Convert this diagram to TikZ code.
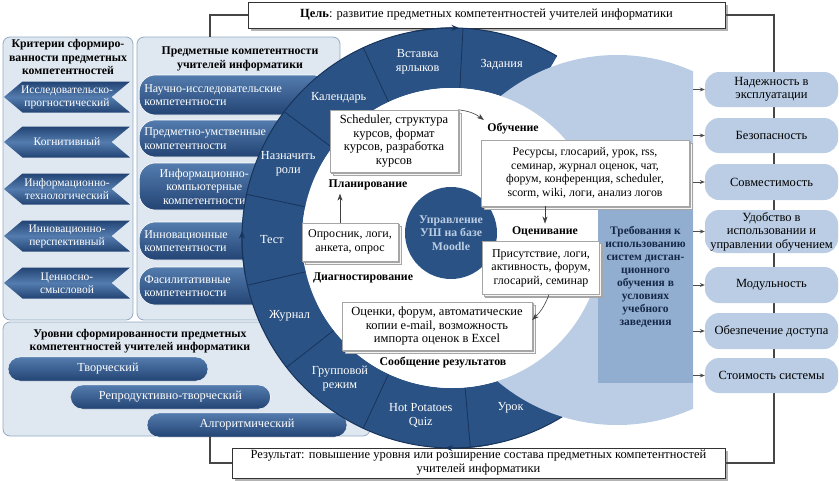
\documentclass[tikz,border=0pt]{standalone}
\usepackage{fontspec}
\setmainfont{Liberation Serif}
\usetikzlibrary{positioning,calc,shapes.symbols,shadows,arrows.meta}

\definecolor{ringblue}{RGB}{42,82,132}
\definecolor{ringline}{RGB}{24,52,92}
\definecolor{capdark}{RGB}{34,68,116}
\definecolor{caplight}{RGB}{84,124,174}
\definecolor{paleblue}{RGB}{186,205,228}
\definecolor{midblue}{RGB}{145,174,208}
\definecolor{panelfill}{RGB}{223,231,240}
\definecolor{panelline}{RGB}{148,170,196}
\definecolor{navytext}{RGB}{22,40,72}
\definecolor{linkgray}{RGB}{70,70,70}

\tikzset{
    x=1pt, y=1pt,
    every node/.style={font=\fontsize{12}{13.5}\selectfont},
    panel/.style={draw=panelline, fill=panelfill, rounded corners=7pt, line width=0.8pt},
    paneltitle/.style={font=\fontsize{11.8}{13.5}\selectfont\bfseries, align=center},
    chevron/.style={signal, signal to=west, signal from=east, signal pointer angle=80,
        top color=capdark, bottom color=capdark, middle color=caplight,
        minimum width=126pt, minimum height=31pt, inner sep=0pt},
    chevtext/.style={text=white, align=center, font=\fontsize{11.5}{13}\selectfont},
    comp/.style={rounded corners=16pt, top color=caplight, bottom color=capdark, text=white,
        draw=white, line width=0.6pt, text width=180pt, align=left, inner sep=5pt, anchor=west},
    level/.style={rounded corners=12pt, top color=caplight, bottom color=capdark, text=white,
        draw=white, minimum width=200pt, minimum height=24pt, inner sep=0pt,
        font=\fontsize{12.3}{13.5}\selectfont},
    seg/.style={text=white, align=center, font=\fontsize{12.3}{14}\selectfont},
    paper/.style={draw=gray!70, fill=white, align=center, inner sep=3pt,
        double copy shadow={shadow xshift=1.5pt, shadow yshift=-1.5pt, draw=gray!70, fill=gray!8}},
    stage/.style={font=\fontsize{11.8}{13.5}\selectfont\bfseries},
    banner/.style={draw=black!80, fill=white, line width=0.6pt, align=center,
        font=\fontsize{12.5}{14}\selectfont,
        drop shadow={shadow xshift=2.5pt, shadow yshift=-2.5pt, fill=gray, opacity=0.6}},
    need/.style={rounded corners=14pt, fill=paleblue, align=center, minimum width=133pt, inner sep=2pt,
        font=\fontsize{12.5}{13.5}\selectfont},
    link/.style={draw=linkgray, line width=1.6pt},
    flow/.style={-{Stealth[length=7pt,width=5pt]}, draw=black!75, line width=0.6pt},
    tip/.style={-{Stealth[length=5pt,width=4pt]}, draw=black!70, line width=0.8pt},
}

\begin{document}
\begin{tikzpicture}
    \useasboundingbox (0,0) rectangle (839,-480);

    % panels on the left
    \node [panel, minimum width=130pt, minimum height=283pt] (critP) at (68,-178.5) {};
    \node [panel, minimum width=203pt, minimum height=283pt] (compP) at (238.5,-178.5) {};
    \node [panel, minimum width=367pt, minimum height=114pt] (levP) at (186.5,-379) {};

    \node [paneltitle] (critT) at (68,-57) {Критерии сформиро-\\ванности предметных\\компетентностей};
    \node [paneltitle] (compT) at (240,-59) {Предметные компетентности\\учителей информатики};
    \node [paneltitle] (levT) at (140,-341) {Уровни сформированности предметных\\компетентностей учителей информатики};

    \node [chevron] (c1) at (67,-97) {};
    \node [chevron] (c2) at (67,-142) {};
    \node [chevron] (c3) at (67,-189) {};
    \node [chevron] (c4) at (67,-236) {};
    \node [chevron] (c5) at (67,-283) {};
    \node [chevtext] (c1t) at (c1) {Исследовательско-\\прогностический};
    \node [chevtext] (c2t) at (c2) {Когнитивный};
    \node [chevtext] (c3t) at (c3) {Информационно-\\технологический};
    \node [chevtext] (c4t) at (c4) {Инновационно-\\перспективный};
    \node [chevtext] (c5t) at (c5) {Ценносно-\\смысловой};

    \node [comp, minimum height=40pt] (k1) at (139,-95) {Научно-исследовательские\\компетентности};
    \node [comp, minimum height=37pt] (k2) at (139,-138.5) {Предметно-умственные\\компетентности};
    \node [comp, minimum height=47pt, align=center] (k3) at (139,-186.5) {\hspace*{-60pt}Информационно-\\\hspace*{-60pt}компьютерные\\\hspace*{-60pt}компетентности};
    \node [comp, minimum height=38pt] (k4) at (139,-241) {Инновационные\\компетентности};
    \node [comp, minimum height=38pt] (k5) at (139,-286) {Фасилитативные\\компетентности};

    \node [level] (l1) at (108,-369) {Творческий};
    \node [level] (l2) at (170.5,-397) {Репродуктивно-творческий};
    \node [level] (l3) at (247,-425) {Алгоритмический};

    % links between goal, panels and result
    \coordinate (gl) at (210,-37);
    \coordinate (lb) at (210,-436);
    \coordinate (rb) at (774,-463);
    \node [banner, minimum width=477pt, minimum height=26pt] (goal) at (486.5,-15)
        {\textbf{Цель}: развитие предметных компетентностей учителей информатики};
    \node [banner, minimum width=493pt, minimum height=30pt, inner sep=1pt] (result) at (478.5,-463)
        {Результат: повышение уровня или розширение состава предметных компетентностей\\учителей информатики};
    \draw [link] (goal.west) -| (gl);
    \draw [link] (lb) |- (result.west);
    \draw [link] (goal.east) -| (rb) -- (result.east);

    % ring
    \coordinate (c) at (452,-238);
    \fill [ringblue] ($(c)+(60:210)$) arc [start angle=60, end angle=305, radius=210]
        -- ($(c)+(305:150)$) arc [start angle=305, end angle=60, radius=150] -- cycle;
    \foreach \a in {87,115,143,168,193,218,245,275}
        \draw [ringline, line width=0.8pt] ($(c)+(\a:150)$) -- ($(c)+(\a:210)$);
    \draw [ringline, line width=1pt] ($(c)+(60:210)$) arc [start angle=60, end angle=305, radius=210];
    \foreach \a in {100,190,280}
        \draw [ringline, line width=1pt, -{Stealth[length=8pt,width=6pt]}] ($(c)+(\a:210)$)
            arc [start angle=\a, end angle=\a-12, radius=210];
    \begin{scope}
        \clip (420,0) rectangle (693,-480);
        \fill [paleblue] (617,-240) circle [radius=185];
    \end{scope}
    \fill [white] (c) circle [radius=150];

    \node [seg] (s1) at ($(c)+(74:180)$) {Задания};
    \node [seg] (s2) at ($(c)+(101:180)$) {Вставка\\ярлыков};
    \node [seg] (s3) at ($(c)+(129:180)$) {Календарь};
    \node [seg] (s4) at ($(c)+(155.5:180)$) {Назначить\\роли};
    \node [seg] (s5) at ($(c)+(180.5:180)$) {Тест};
    \node [seg] (s6) at ($(c)+(205.5:180)$) {Журнал};
    \node [seg] (s7) at ($(c)+(231.5:180)$) {Групповой\\режим};
    \node [seg] (s8) at ($(c)+(260:180)$) {Hot Potatoes\\Quiz};
    \node [seg] (s9) at ($(c)+(289:180)$) {Урок};

    \node [circle, fill=ringblue, minimum size=92pt, text=paleblue, align=center,
        font=\fontsize{11.8}{13.5}\selectfont\bfseries] (moodle) at (451,-233) {Управление\\УШ на базе\\Moodle};

    % requirements on the right
    \node [fill=midblue, minimum width=95pt, minimum height=176pt] (demands) at (645.5,-295) {};
    \node [font=\fontsize{11.5}{13}\selectfont\bfseries, text=navytext, align=center] (demandsT) at (645.5,-277)
        {Требования к\\использованию\\систем дистан-\\ционного\\обучения в\\условиях\\учебного\\заведения};

    % stages inside the ring
    \node [paper, minimum width=128pt, minimum height=62pt, font=\fontsize{12.5}{13.5}\selectfont] (sched) at (394,-141)
        {Scheduler, структура\\курсов, формат\\курсов, разработка\\курсов};
    \node [stage] (plan) at (368,-185) {Планирование};
    \node [stage] (learn) at (513,-129) {Обучение};
    \node [paper, minimum width=208pt, minimum height=66pt, font=\fontsize{11.8}{13.5}\selectfont] (res) at (585,-173)
        {Ресурсы, глосарий, урок, rss,\\семинар, журнал оценок, чат,\\форум, конференция, scheduler,\\scorm, wiki, логи, анализ логов};
    \node [stage] (grade) at (545,-232) {Оценивание};
    \node [paper, minimum width=117pt, minimum height=53pt] (pres) at (541,-268)
        {Присутствие, логи,\\активность, форум,\\глосарий, семинар};
    \node [paper, minimum width=190pt, minimum height=48pt, font=\fontsize{12.5}{13.5}\selectfont] (marks) at (437,-326)
        {Оценки, форум, автоматические\\копии e-mail, возможность\\импорта оценок в Excel};
    \node [stage] (report) at (443,-363) {Сообщение результатов};
    \node [paper, minimum width=96pt, minimum height=38pt] (poll) at (350,-242)
        {Опросник, логи,\\анкета, опрос};
    \node [stage] (diag) at (363,-278) {Диагностирование};

    \draw [flow] (sched.north east) to [bend left=15] (learn.north west);
    \draw [flow] (res.south -| grade.north) -- (grade.north);
    \draw [flow] ([xshift=8pt]pres.south) to [bend left=12] ([yshift=6pt]marks.east);
    \draw [flow] ([xshift=-10pt]poll.north) -- ([xshift=-10pt]poll.north |- plan.south);

    \node [need, minimum height=35pt] (n1) at (771.5,-89.5) {Надежность в\\эксплуатации};
    \node [need, minimum height=35pt] (n2) at (771.5,-135.5) {Безопасность};
    \node [need, minimum height=36pt] (n3) at (771.5,-182) {Совместимость};
    \node [need, minimum height=43pt] (n4) at (771.5,-231.5) {Удобство в\\использовании и\\управлении обучением};
    \node [need, minimum height=36pt] (n5) at (771.5,-285) {Модульность};
    \node [need, minimum height=36pt] (n6) at (771.5,-331) {Обезпечение доступа};
    \node [need, minimum height=35pt] (n7) at (771.5,-375.5) {Стоимость системы};
    \foreach \i in {1,...,7}
        \draw [tip] (demands.east |- n\i.west) -- (n\i.west);
\end{tikzpicture}
\end{document}
